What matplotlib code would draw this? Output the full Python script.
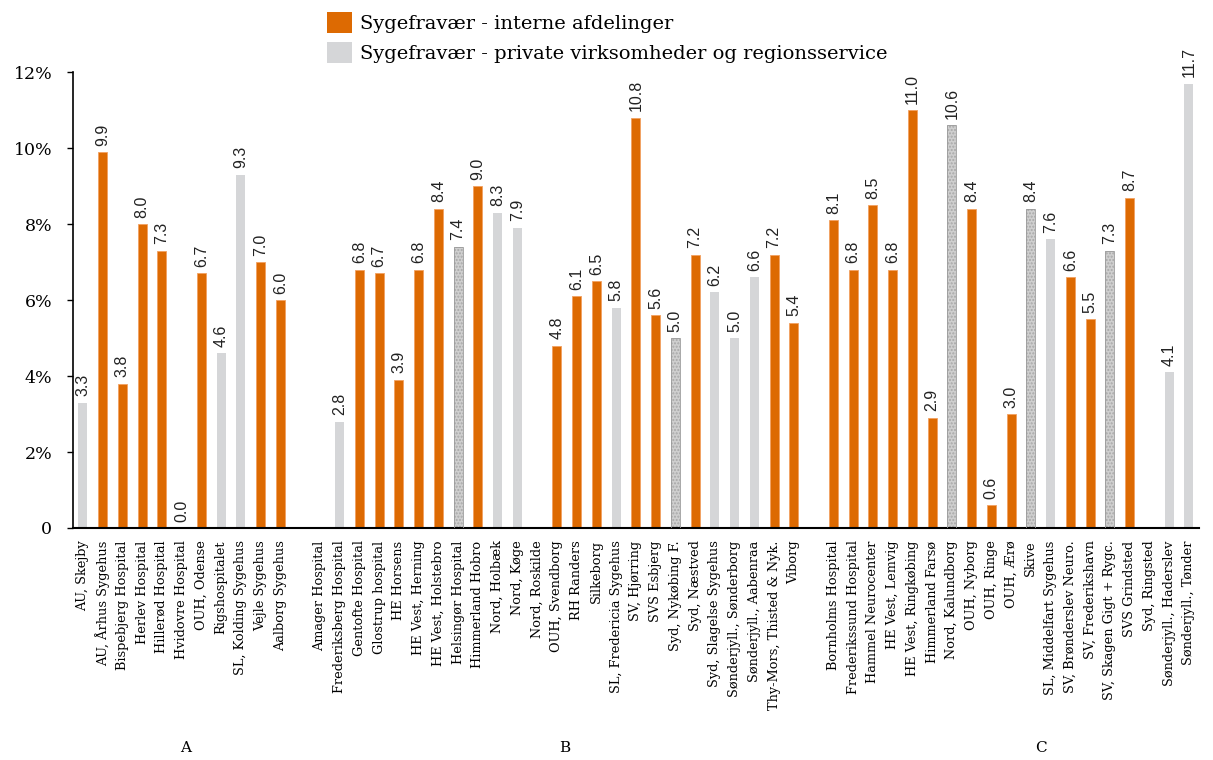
import numpy as np
import matplotlib
matplotlib.use('Agg')
import matplotlib.pyplot as plt
from matplotlib.patches import Patch

ORANGE = '#DD6A02'
GREY = '#D5D6D8'

# category names per group (A, B, C)
group_a = ['AU, Skejby', 'AU, Århus Sygehus', 'Bispebjerg Hospital', 'Herlev Hospital',
           'Hillerød Hospital', 'Hvidovre Hospital', 'OUH, Odense', 'Rigshospitalet',
           'SL, Kolding Sygehus', 'Vejle Sygehus', 'Aalborg Sygehus']
group_b = ['Amager Hospital', 'Frederiksberg Hospital', 'Gentofte Hospital', 'Glostrup hospital',
           'HE Horsens', 'HE Vest, Herning', 'HE Vest, Holstebro', 'Helsingør Hospital',
           'Himmerland Hobro', 'Nord, Holbæk', 'Nord, Køge', 'Nord, Roskilde',
           'OUH, Svendborg', 'RH Randers', 'Silkeborg', 'SL, Fredericia Sygehus',
           'SV, Hjørring', 'SVS Esbjerg', 'Syd, Nykøbing F.', 'Syd, Næstved',
           'Syd, Slagelse Sygehus', 'Sønderjyll., Sønderborg', 'Sønderjyll., Aabenraa',
           'Thy-Mors, Thisted & Nyk.', 'Viborg']
group_c = ['Bornholms Hospital', 'Frederikssund Hospital', 'Hammel Neurocenter',
           'HE Vest, Lemvig', 'HE Vest, Ringkøbing', 'Himmerland Farsø', 'Nord, Kalundborg',
           'OUH, Nyborg', 'OUH, Ringe', 'OUH, Ærø', 'Skive', 'SL, Middelfart Sygehus',
           'SV, Brønderslev Neuro.', 'SV, Frederikshavn', 'SV, Skagen Gigt + Rygc.',
           'SVS Grindsted', 'Syd, Ringsted', 'Sønderjyll., Haderslev', 'Sønderjyll., Tønder']

# values in %, None = no bar
values_a = [3.3, 9.9, 3.8, 8.0, 7.3, 0.0, 6.7, 4.6, 9.3, 7.0, 6.0]
values_b = [None, 2.8, 6.8, 6.7, 3.9, 6.8, 8.4, 7.4, 9.0, 8.3, 7.9, None,
            4.8, 6.1, 6.5, 5.8, 10.8, 5.6, 5.0, 7.2, 6.2, 5.0, 6.6, 7.2, 5.4]
values_c = [8.1, 6.8, 8.5, 6.8, 11.0, 2.9, 10.6, 8.4, 0.6, 3.0, 8.4, 7.6,
            6.6, 5.5, 7.3, 8.7, None, 4.1, 11.7]

# series: 'i' = interne afdelinger, 'p' = private/regionsservice, 'h' = private (patterned)
series_a = ['p', 'i', 'i', 'i', 'i', 'i', 'i', 'p', 'p', 'i', 'i']
series_b = ['p', 'p', 'i', 'i', 'i', 'i', 'i', 'h', 'i', 'p', 'p', 'p',
            'i', 'i', 'i', 'p', 'i', 'i', 'h', 'i', 'p', 'p', 'p', 'i', 'i']
series_c = ['i', 'i', 'i', 'i', 'i', 'i', 'h', 'i', 'i', 'i', 'h', 'p',
            'i', 'i', 'h', 'i', 'p', 'p', 'p']

group_names = ['A', 'B', 'C']
group_label_x = [5.2, 24.4, 48.5]

# build slots with a blank slot between groups
labels, values, series = [], [], []
for g, (n, v, s) in enumerate([(group_a, values_a, series_a),
                               (group_b, values_b, series_b),
                               (group_c, values_c, series_c)]):
    if g > 0:
        labels.append('')
        values.append(None)
        series.append('p')
    labels += n
    values += v
    series += s
x = np.arange(len(labels))

fig = plt.figure(figsize=(12.13, 7.6), dpi=100)
ax = fig.add_axes([0.0602, 0.3053, 0.928, 0.5997])

w = 0.46
for xi, v, s in zip(x, values, series):
    if v is None:
        continue
    if s == 'i':
        ax.bar(xi, v, width=w, color=ORANGE, edgecolor='#F2A060', linewidth=0.6, zorder=2)
    elif s == 'p':
        ax.bar(xi, v, width=w, color=GREY, linewidth=0, zorder=2)
    else:
        ax.bar(xi, v, width=w, color='#CFCFCF', edgecolor='#A8A8A8', hatch='.....',
               linewidth=0, zorder=2)
        ax.bar(xi, v, width=w, color='none', edgecolor='#9A9A9A', linewidth=0.6, zorder=3)
    ax.text(xi, v + 0.17, '%.1f' % v, rotation=90, ha='center', va='bottom',
            fontsize=11.5, family='Liberation Sans', color='#222222')

ax.set_xlim(-0.5, len(labels) - 0.5)
ax.set_ylim(0, 12)
ax.set_yticks(np.arange(0, 13, 2))
ax.set_yticklabels(['0'] + ['%d%%' % t for t in range(2, 13, 2)],
                   family='DejaVu Serif', fontsize=12.5)
ax.set_xticks(x)
ax.set_xticklabels(labels, rotation=90, family='DejaVu Serif', fontsize=9.3)
ax.tick_params(axis='x', length=0, pad=9)
ax.tick_params(axis='y', length=4, width=1, direction='out', pad=11)
for sp in ['top', 'right']:
    ax.spines[sp].set_visible(False)
ax.spines['left'].set_linewidth(1.2)
ax.spines['bottom'].set_linewidth(1.5)

for name, gx in zip(group_names, group_label_x):
    ax.text(gx, -0.482, name, transform=ax.get_xaxis_transform(), ha='center', va='center',
            family='DejaVu Serif', fontsize=11)

# legend
handles = [Patch(facecolor=ORANGE, edgecolor='none', label='Sygefravær - interne afdelinger'),
           Patch(facecolor=GREY, edgecolor='none',
                 label='Sygefravær - private virksomheder og regionsservice')]
leg = fig.legend(handles=handles, loc='upper left', bbox_to_anchor=(0.255, 1.007),
                 frameon=False, handlelength=1.3, handleheight=1.3, handletextpad=0.4,
                 labelspacing=0.45, prop={'family': 'DejaVu Serif', 'size': 14})

fig.savefig('out.png', dpi=100)
